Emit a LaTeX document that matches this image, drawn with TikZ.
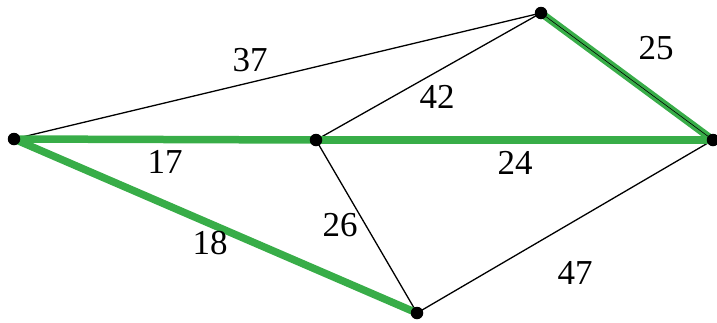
\documentclass[tikz,border=0pt]{standalone}
\usepackage{tikz}
\usetikzlibrary{positioning,calc}
\usepackage{xcolor}
\usepackage{fontspec}
\setmainfont{Liberation Serif}
\definecolor{treegreen}{HTML}{38AD48}

\begin{document}
\begin{tikzpicture}[x=1pt, y=-1pt,
  vtx/.style={circle, fill=black, inner sep=0pt, minimum size=12.5pt},
  edge/.style={black, line width=1.3pt},
  tree/.style={treegreen, line width=7.5pt},
  wlabel/.style={font=\fontsize{35}{38}\selectfont, inner sep=0pt}
]
  \useasboundingbox (0,0) rectangle (717,322);

  \coordinate (a) at (14,139);
  \coordinate (b) at (316,140);
  \coordinate (c) at (541,13);
  \coordinate (d) at (713,140);
  \coordinate (e) at (417,313);

  % thin edges
  \draw[edge] (a) -- (c);
  \draw[edge] (b) -- (c);
  \draw[edge] (b) -- (e);
  \draw[edge] (e) -- (d);

  % spanning tree
  \draw[tree] (a) -- (b);
  \draw[tree] (a) -- (e);
  \draw[tree] (b) -- (d);
  \draw[tree] (c) -- (d);
  \draw[black, line width=0.6pt] (c) -- (d);

  \foreach \v in {a,b,c,d,e}
    \node[vtx] (n\v) at (\v) {};

  \node[wlabel] (w37) at (250,60) {37};
  \node[wlabel] (w42) at (437,97) {42};
  \node[wlabel] (w25) at (656,48) {25};
  \node[wlabel] (w17) at (165,162) {17};
  \node[wlabel] (w24) at (515,163) {24};
  \node[wlabel] (w26) at (340,225) {26};
  \node[wlabel] (w18) at (210,243) {18};
  \node[wlabel] (w47) at (575,273) {47};
\end{tikzpicture}
\end{document}
